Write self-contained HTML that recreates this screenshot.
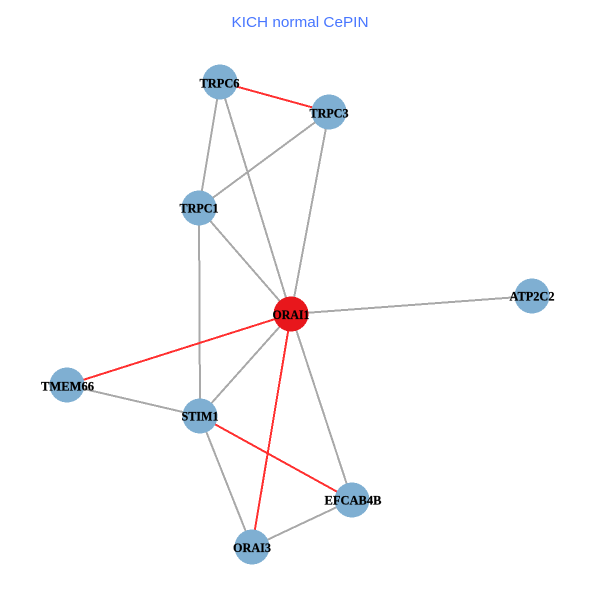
<!DOCTYPE html>
<html><head><meta charset="utf-8"><style>
html,body{margin:0;padding:0;background:#fff}
svg{display:block}
.l{font-family:"Liberation Serif",serif;font-weight:bold;font-size:13px;fill:#000;text-anchor:middle;stroke:#000;stroke-width:.2px}
line,circle{shape-rendering:crispEdges}
</style></head><body>
<svg width="600" height="600" viewBox="0 0 600 600" xmlns="http://www.w3.org/2000/svg">
<rect width="600" height="600" fill="#fff"/>
<g stroke="#a9a9a9" stroke-width="2" fill="none">
<line x1="220" y1="82" x2="199" y2="208"/>
<line x1="220" y1="82" x2="291" y2="314"/>
<line x1="329" y1="112" x2="199" y2="208"/>
<line x1="329" y1="112" x2="291" y2="314"/>
<line x1="199" y1="208" x2="291" y2="314"/>
<line x1="199" y1="208" x2="200" y2="416"/>
<line x1="291" y1="314" x2="532" y2="296"/>
<line x1="291" y1="314" x2="200" y2="416"/>
<line x1="291" y1="314" x2="352" y2="500"/>
<line x1="67" y1="385" x2="200" y2="416"/>
<line x1="200" y1="416" x2="252" y2="547"/>
<line x1="352" y1="500" x2="252" y2="547"/>
</g>
<g stroke="#ff3030" stroke-width="2" fill="none">
<line x1="220" y1="82" x2="329" y2="112"/>
<line x1="291" y1="314" x2="67" y2="385"/>
<line x1="291" y1="314" x2="252" y2="547"/>
<line x1="200" y1="416" x2="352" y2="500"/>
</g>
<g fill="#7fafd2">
<circle cx="220" cy="82" r="17.5"/>
<circle cx="329" cy="112" r="17.5"/>
<circle cx="199" cy="208" r="17.5"/>
<circle cx="532" cy="296" r="17.5"/>
<circle cx="67" cy="385" r="17.5"/>
<circle cx="200" cy="416" r="17.5"/>
<circle cx="352" cy="500" r="17.5"/>
<circle cx="252" cy="547" r="17.5"/>
</g>
<circle cx="291" cy="314" r="17.5" fill="#e8171c"/>
<text x="300" y="27" font-family="'Liberation Sans',sans-serif" font-size="14.4" fill="#4876ff" text-anchor="middle" textLength="137" lengthAdjust="spacingAndGlyphs">KICH normal CePIN</text>
<g>
<text class="l" x="219.5" y="87.5" textLength="40" lengthAdjust="spacingAndGlyphs">TRPC6</text>
<text class="l" x="329" y="117.5" textLength="39" lengthAdjust="spacingAndGlyphs">TRPC3</text>
<text class="l" x="199" y="212.5" textLength="39" lengthAdjust="spacingAndGlyphs">TRPC1</text>
<text class="l" x="291" y="319" textLength="37" lengthAdjust="spacingAndGlyphs">ORAI1</text>
<text class="l" x="532" y="300.5" textLength="45" lengthAdjust="spacingAndGlyphs">ATP2C2</text>
<text class="l" x="67.5" y="390.5" textLength="53" lengthAdjust="spacingAndGlyphs">TMEM66</text>
<text class="l" x="200" y="420.5" textLength="37" lengthAdjust="spacingAndGlyphs">STIM1</text>
<text class="l" x="353" y="504.5" textLength="57" lengthAdjust="spacingAndGlyphs">EFCAB4B</text>
<text class="l" x="252" y="552" textLength="38" lengthAdjust="spacingAndGlyphs">ORAI3</text>
</g>
</svg>
</body></html>
